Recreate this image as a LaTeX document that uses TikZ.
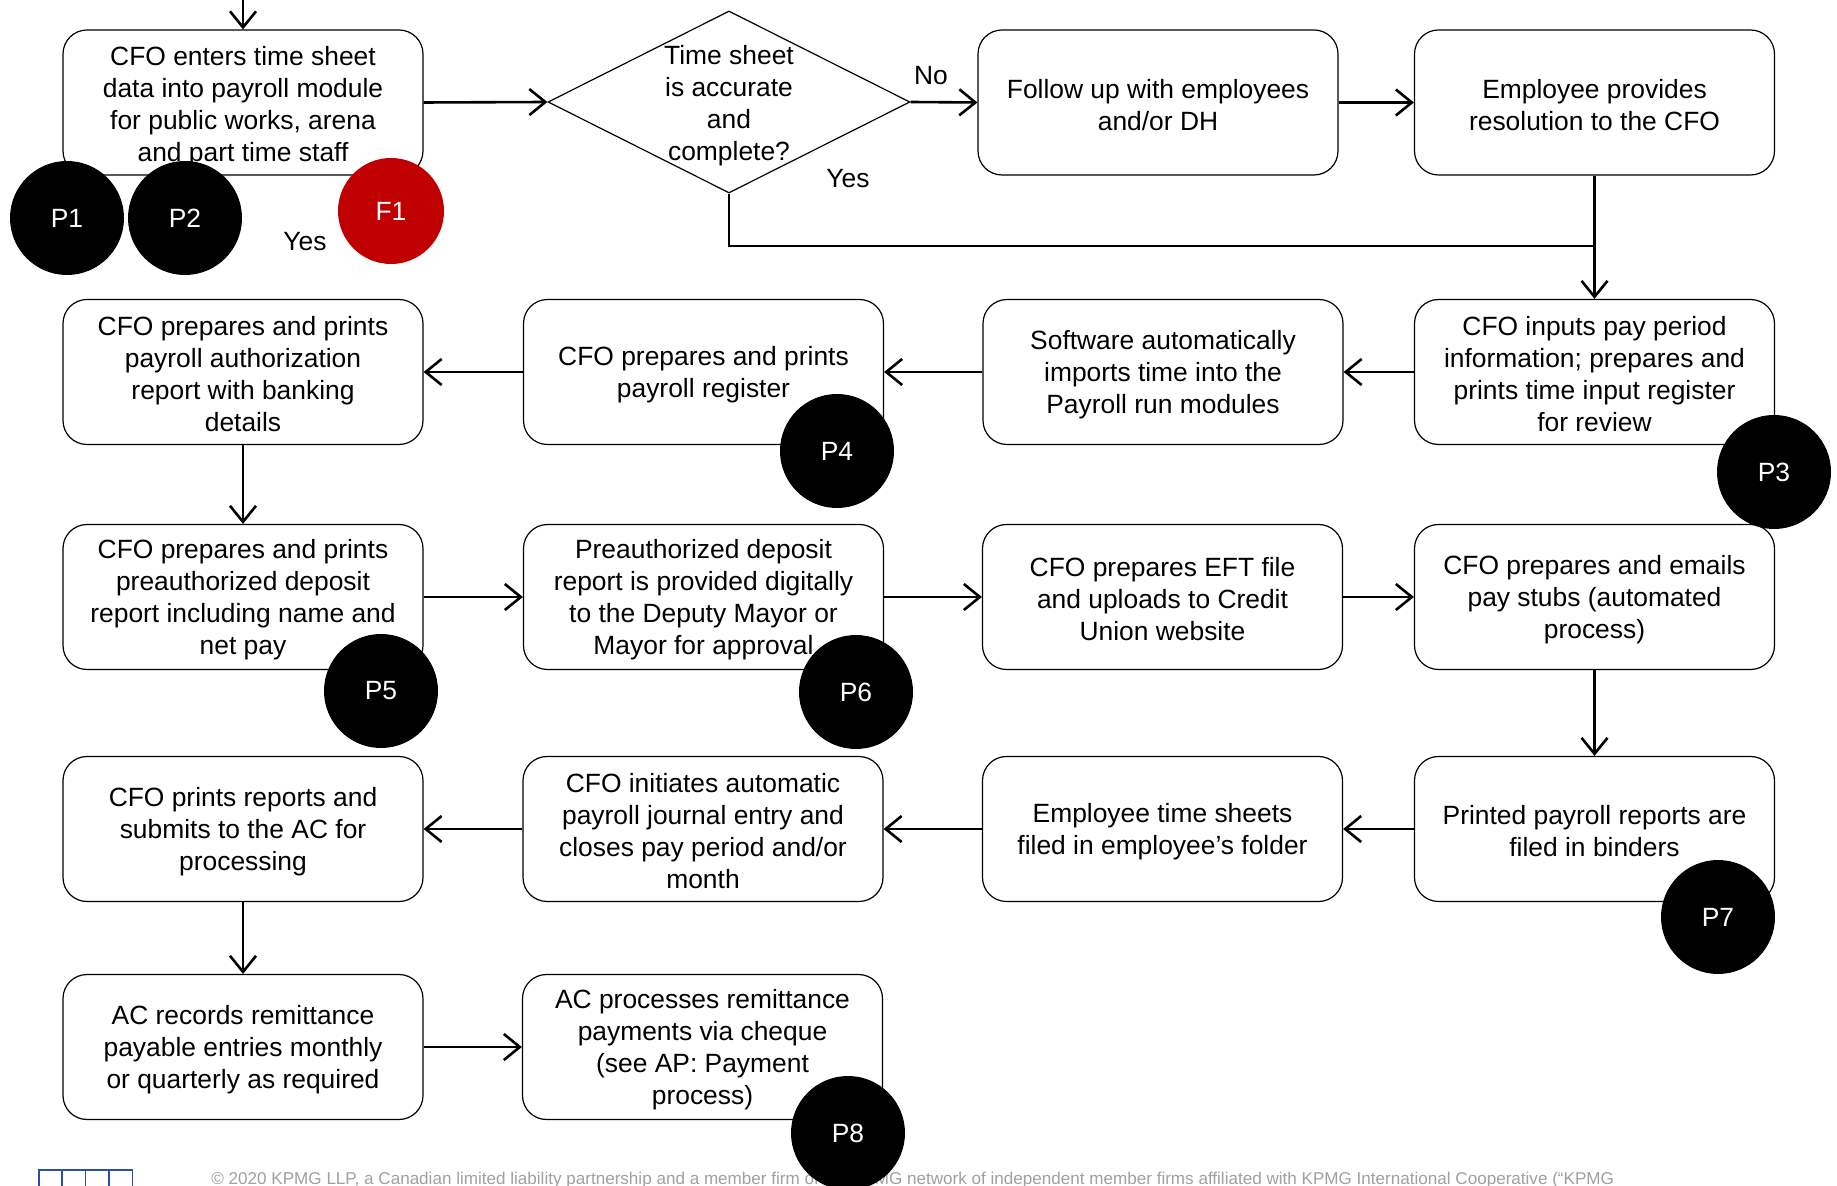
\documentclass[tikz,border=0pt]{standalone}
\usepackage{fontspec}
\setmainfont{Liberation Sans}
\usetikzlibrary{arrows.meta,shapes.geometric}
\definecolor{fred}{RGB}{192,0,0}
\definecolor{footgray}{RGB}{160,160,160}
\definecolor{kblue}{RGB}{40,80,170}
\newcommand\bxs{\rule{0pt}{11.8pt}}
\begin{document}
\begin{tikzpicture}[x=0.5pt,y=-0.5pt,
  box/.style={draw, rounded corners=12pt, line width=0.6pt, minimum width=180pt, minimum height=72.5pt, align=center, inner sep=0pt, font=\fontsize{13.2}{16}\selectfont},
  dia/.style={draw, diamond, line width=0.6pt, minimum width=181pt, minimum height=91pt, inner sep=0pt},
  txt/.style={align=center, inner sep=0pt, font=\fontsize{13.2}{16}\selectfont},
  conn/.style={line width=1.3pt, -{Straight Barb[length=8pt,width=13pt,line width=1.3pt]}},
  plain/.style={line width=1.3pt},
  pc/.style={circle, fill=black, minimum size=57pt, inner sep=0pt, text=white, font=\fontsize{13.2}{16}\selectfont},
  fc/.style={circle, fill=fred, minimum size=53pt, inner sep=0pt, text=white, font=\fontsize{13.2}{16}\selectfont}]
\useasboundingbox (0,0) rectangle (1837,1186);
% row 1
\node[box] (A) at (243,102.5) {\rule{0pt}{13.3pt}CFO enters time sheet\\data into payroll module\\for public works, arena\\and part time staff};
\node[dia] (dec) at (729,102) {};
\node[txt] (dect) at (729,106) {Time sheet\\is accurate\\and\\complete?};
\node[box] (B) at (1158,102.5) {\bxs Follow up with employees\\and/or DH};
\node[box] (C) at (1594.5,102.5) {\bxs Employee provides\\resolution to the CFO};
% row 2
\node[box] (D) at (243,372) {\bxs CFO prepares and prints\\payroll authorization\\report with banking\\details};
\node[box] (E) at (703.5,372) {\bxs CFO prepares and prints\\payroll register};
\node[box] (F) at (1163,372) {\bxs Software automatically\\imports time into the\\Payroll run modules};
\node[box] (G) at (1594.5,372) {\bxs CFO inputs pay period\\information; prepares and\\prints time input register\\for review};
% row 3
\node[box] (H) at (243,597) {\bxs CFO prepares and prints\\preauthorized deposit\\report including name and\\net pay};
\node[box] (I) at (703.5,597) {\bxs Preauthorized deposit\\report is provided digitally\\to the Deputy Mayor or\\Mayor for approval};
\node[box] (J) at (1162.5,597) {\bxs CFO prepares EFT file\\and uploads to Credit\\Union website};
\node[box] (K) at (1594.5,597) {\bxs CFO prepares and emails\\pay stubs (automated\\process)};
% row 4
\node[box] (L) at (243,829) {\bxs CFO prints reports and\\submits to the AC for\\processing};
\node[box] (M) at (703,829) {\bxs CFO initiates automatic\\payroll journal entry and\\closes pay period and/or\\month};
\node[box] (N) at (1162.5,829) {\bxs Employee time sheets\\filed in employee’s folder};
\node[box] (O) at (1594.5,829) {\bxs Printed payroll reports are\\filed in binders};
% row 5
\node[box] (P) at (243,1047) {\bxs AC records remittance\\payable entries monthly\\or quarterly as required};
\node[box] (Q) at (702.5,1047) {\bxs AC processes remittance\\payments via cheque\\(see AP: Payment\\process)};
% connectors
\coordinate (start) at (243,-10);
\draw[conn] (start) -- (A.north);
\draw[conn] (A.east) -- (dec.west);
\draw[conn] (dec.east) -- (B.west);
\draw[conn] (B.east) -- (C.west);
\draw[conn] (C.south) -- (C.south |- G.north);
\coordinate (m) at (1594.5,246);
\draw[plain] (dec.south) |- (m);
\draw[conn] (G.west) -- (F.east);
\draw[conn] (F.west) -- (E.east);
\draw[conn] (E.west) -- (D.east);
\draw[conn] (D.south) -- (H.north);
\draw[conn] (H.east) -- (I.west);
\draw[conn] (I.east) -- (J.west);
\draw[conn] (J.east) -- (K.west);
\draw[conn] (K.south) -- (K.south |- O.north);
\draw[conn] (O.west) -- (N.east);
\draw[conn] (N.west) -- (M.east);
\draw[conn] (M.west) -- (L.east);
\draw[conn] (L.south) -- (P.north);
\draw[conn] (P.east) -- (Q.west);
% labels
\node[txt] (yes1) at (305,241.5) {Yes};
\node[txt] (no) at (931,75.5) {No};
\node[txt] (yes2) at (848,178.5) {Yes};
% footer
\node[anchor=west, inner sep=0pt, text=footgray, font=\fontsize{8.54}{10}\selectfont] (foot) at (211,1180.5) {© 2020 KPMG LLP, a Canadian limited liability partnership and a member firm of the KPMG network of independent member firms affiliated with KPMG International Cooperative (“KPMG};
\foreach \i in {0,1,2,3} {
  \draw[kblue, line width=0.8pt] (38.7+23.4*\i,1170) rectangle (38.7+23.4*\i+23.4,1200);
}
% circles
\node[pc] (p1) at (67,218) {P1};
\node[pc] (p2) at (185,218) {P2};
\node[fc] (f1) at (391,211) {F1};
\node[pc] (p4) at (837,451) {P4};
\node[pc] (p3) at (1774,472) {P3};
\node[pc] (p5) at (381,691) {P5};
\node[pc] (p6) at (856,692) {P6};
\node[pc] (p7) at (1718,917) {P7};
\node[pc] (p8) at (848,1133) {P8};
\end{tikzpicture}
\end{document}
